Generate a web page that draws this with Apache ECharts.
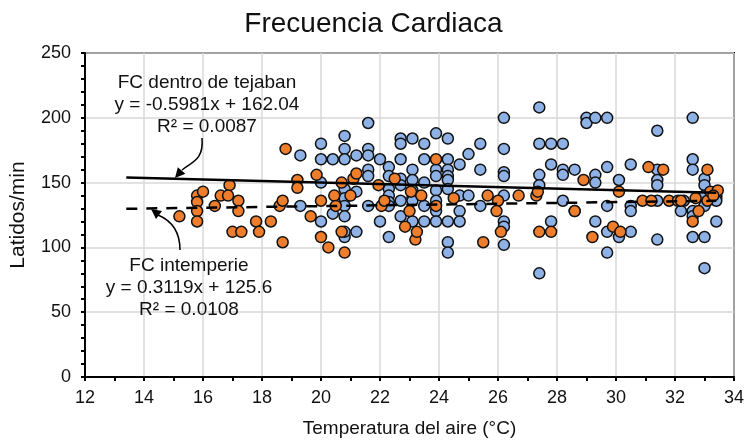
<!DOCTYPE html>
<html>
<head>
<meta charset="utf-8">
<script src="https://cdn.jsdelivr.net/npm/echarts@6/dist/echarts.min.js"></script>
<style>
html, body { margin: 0; padding: 0; background: #fff; }
#main { width: 747px; height: 443px; }
</style>
</head>
<body>
<div id="main"></div>
<script>
// temperatura (°C) y latidos/min, FC dentro de tejaban (azul)
var blueTemp = [19.3, 19.3, 20.0, 20.0, 20.0, 20.0, 20.4, 20.4, 20.8, 20.8, 20.8, 20.8, 20.8, 20.8, 20.8, 20.8, 20.8,
    21.2, 21.2, 21.2, 21.6, 21.6, 21.6, 21.6, 21.6, 21.6, 22.0, 22.0, 22.3, 22.3, 22.3, 22.3, 22.3, 22.3, 22.3,
    22.7, 22.7, 22.7, 22.7, 22.7, 22.7, 22.7, 23.1, 23.1, 23.1, 23.1, 23.1, 23.1, 23.1, 23.5, 23.5, 23.5, 23.5, 23.5,
    23.9, 23.9, 23.9, 23.9, 23.9, 23.9, 23.9, 24.3, 24.3, 24.3, 24.3, 24.3, 24.3, 24.3, 24.3, 24.3,
    24.7, 24.7, 24.7, 24.7, 25.0, 25.0, 25.4, 25.4, 25.4, 26.2, 26.2, 26.2, 26.2, 26.2, 26.2, 26.2, 26.2,
    27.4, 27.4, 27.4, 27.4, 27.4, 27.8, 27.8, 27.8, 28.2, 28.2, 28.2, 28.2, 28.6, 28.6, 29.0, 29.0,
    29.3, 29.3, 29.3, 29.3, 29.7, 29.7, 29.7, 29.7, 29.7, 30.1, 30.1, 30.5, 30.5, 30.5, 30.5,
    31.4, 31.4, 31.4, 31.4, 31.4, 31.4, 32.2, 32.3, 32.6, 32.6, 32.6, 32.6, 32.6, 32.6,
    33.0, 33.0, 33.0, 33.0, 33.0, 33.0, 33.4, 33.4, 33.4, 33.4, 33.4];
var blueBpm = [171, 132, 180, 168, 150, 120, 168, 126, 186, 176, 168, 145, 138, 132, 124, 108, 112,
    171, 143, 112, 196, 176, 171, 160, 155, 132, 168, 120, 162, 155, 145, 140, 135, 132, 108,
    184, 180, 168, 153, 148, 136, 124, 184, 160, 152, 144, 138, 136, 120, 180, 168, 150, 132, 120,
    188, 160, 155, 144, 136, 128, 120, 184, 168, 160, 155, 152, 145, 120, 104, 96,
    164, 140, 128, 120, 172, 140, 180, 160, 132, 200, 176, 158, 155, 140, 120, 116, 102,
    208, 180, 156, 148, 80, 180, 164, 120, 180, 160, 156, 136, 160, 128, 200, 196,
    200, 156, 150, 120, 200, 162, 132, 112, 96, 152, 108, 164, 132, 128, 112,
    190, 160, 152, 148, 136, 106, 128, 136, 200, 168, 160, 128, 124, 108,
    153, 148, 140, 132, 108, 84, 143, 140, 138, 136, 120];

// FC intemperie (naranja)
var orangeTemp = [15.2, 15.8, 15.8, 15.8, 15.8, 16.0, 16.4, 16.6, 16.9, 16.85, 17.2, 17.2, 17.0, 17.3,
    17.8, 17.9, 18.3, 18.6, 18.7, 18.7, 18.8, 19.2, 19.2, 19.65, 19.85, 20.0, 20.0, 20.25, 20.45, 20.5,
    20.7, 20.7, 20.8, 21.0, 21.1, 21.2, 21.95, 22.05, 22.15, 22.5, 22.85, 23.0, 23.05, 23.2, 23.25, 23.4,
    23.9, 23.9, 24.5, 25.5, 25.65, 26.0, 25.95, 26.1, 26.7, 27.3, 27.35, 27.4, 27.8, 28.6, 28.9, 29.2,
    29.9, 30.1, 30.15, 30.9, 31.1, 31.2, 31.6, 31.8, 32.1, 32.2, 32.6, 32.7, 32.8, 33.1, 33.1, 33.2, 33.45, 33.3];
var orangeBpm = [124, 140, 135, 128, 120, 143, 132, 140, 148, 140, 136, 128, 112, 112,
    120, 112, 120, 132, 136, 104, 176, 152, 146, 124, 156, 136, 108, 100, 140, 132,
    150, 112, 96, 140, 153, 157, 148, 132, 136, 153, 116, 128, 143, 106, 112, 140,
    168, 132, 138, 104, 140, 136, 128, 112, 140, 140, 143, 112, 112, 128, 152, 108,
    116, 143, 112, 136, 162, 136, 160, 136, 136, 136, 120, 138, 128, 160, 136, 143, 144, 140];

// líneas de tendencia (extremos)
var trendIn = [[13.4, 154.0], [33.4, 142.1]];
var trendOut = [[13.4, 129.8], [33.4, 136.0]];

var labelsIn = ['FC dentro de tejaban', 'y = -0.5981x + 162.04', 'R² = 0.0087'];
var labelsOut = ['FC intemperie', 'y = 0.3119x + 125.6', 'R² = 0.0108'];

var FONT = '"Liberation Sans", Arial, sans-serif';

function zip(xs, ys) {
    var out = [];
    for (var i = 0; i < xs.length; i++) out.push([xs[i], ys[i]]);
    return out;
}

// punta de flecha: tip y direccion
function arrowHead(tx, ty, dx, dy) {
    var len = Math.sqrt(dx * dx + dy * dy);
    dx /= len; dy /= len;
    var bx = tx - 10 * dx, by = ty - 10 * dy;
    return {
        type: 'polygon',
        shape: { points: [[tx, ty], [bx + 5 * dy, by - 5 * dx], [bx - 5 * dy, by + 5 * dx]] },
        style: { fill: '#000' },
        z: 100
    };
}

function textBlock(lines, cx, y0) {
    return lines.map(function(t, i) {
        return {
            type: 'text',
            x: cx, y: y0 + i * 22,
            style: { text: t, font: '19px ' + FONT, fill: '#111', textAlign: 'center', textVerticalAlign: 'middle' },
            z: 100
        };
    });
}

var chart = echarts.init(document.getElementById('main'));

var markerStyle = function(color) {
    return { color: color, borderColor: '#111', borderWidth: 1.5, opacity: 1 };
};

var option = {
    animation: false,
    title: {
        text: 'Frecuencia Cardiaca',
        left: 'center',
        top: 5,
        textStyle: { fontFamily: FONT, fontSize: 28, fontWeight: 'normal', color: '#111' }
    },
    grid: {
        left: 85, right: 8, top: 53, bottom: 63,
        show: true, borderColor: '#000', borderWidth: 2
    },
    xAxis: {
        type: 'value', min: 12, max: 34, interval: 2,
        name: 'Temperatura del aire (°C)',
        nameLocation: 'middle', nameGap: 42,
        nameTextStyle: { fontFamily: FONT, fontSize: 19, color: '#111' },
        axisLine: { lineStyle: { color: '#000', width: 2 } },
        axisTick: { inside: false, length: 4, lineStyle: { color: '#000', width: 2 } },
        minorTick: { show: true, splitNumber: 2, length: 4, lineStyle: { color: '#000', width: 2 } },
        axisLabel: { fontFamily: FONT, fontSize: 18, color: '#111', margin: 12 },
        splitLine: { lineStyle: { color: '#d9d9d9', width: 1.5 } }
    },
    yAxis: {
        type: 'value', min: 0, max: 250, interval: 50,
        name: 'Latidos/min',
        nameLocation: 'middle', nameGap: 56,
        nameTextStyle: { fontFamily: FONT, fontSize: 21, color: '#111' },
        axisLine: { show: true, lineStyle: { color: '#000', width: 2 } },
        axisTick: { show: true, inside: false, length: 4, lineStyle: { color: '#000', width: 2 } },
        minorTick: { show: true, splitNumber: 5, length: 4, lineStyle: { color: '#000', width: 2 } },
        axisLabel: { fontFamily: FONT, fontSize: 18, color: '#111', margin: 14 },
        splitLine: { lineStyle: { color: '#d9d9d9', width: 1.5 } }
    },
    series: [{
        name: 'FC dentro de tejaban',
        type: 'scatter',
        symbolSize: 11,
        itemStyle: markerStyle('#8eb1e6'),
        data: zip(blueTemp, blueBpm),
        z: 2
    }, {
        name: 'FC intemperie',
        type: 'scatter',
        symbolSize: 11,
        itemStyle: markerStyle('#ee7d2c'),
        data: zip(orangeTemp, orangeBpm),
        z: 3
    }, {
        type: 'line',
        data: trendIn,
        symbol: 'none',
        lineStyle: { color: '#000', width: 2.5 },
        z: 5
    }, {
        type: 'line',
        data: trendOut,
        symbol: 'none',
        lineStyle: { color: '#000', width: 2.5, type: [11, 9] },
        z: 5
    }],
    graphic: textBlock(labelsIn, 207, 83).concat(textBlock(labelsOut, 189, 266)).concat([
        {
            type: 'bezierCurve',
            shape: { x1: 202, y1: 138, cpx1: 204, cpy1: 160, cpx2: 192, cpy2: 162, x2: 182, y2: 170 },
            style: { stroke: '#000', lineWidth: 1.5, fill: null },
            z: 100
        },
        arrowHead(175, 178, -0.7, 0.8),
        {
            type: 'bezierCurve',
            shape: { x1: 180, y1: 250, cpx1: 180, cpy1: 230, cpx2: 170, cpy2: 220, x2: 158, y2: 215 },
            style: { stroke: '#000', lineWidth: 1.5, fill: null },
            z: 100
        },
        arrowHead(151, 209, -0.8, -0.6)
    ])
};

chart.setOption(option);
</script>
</body>
</html>
